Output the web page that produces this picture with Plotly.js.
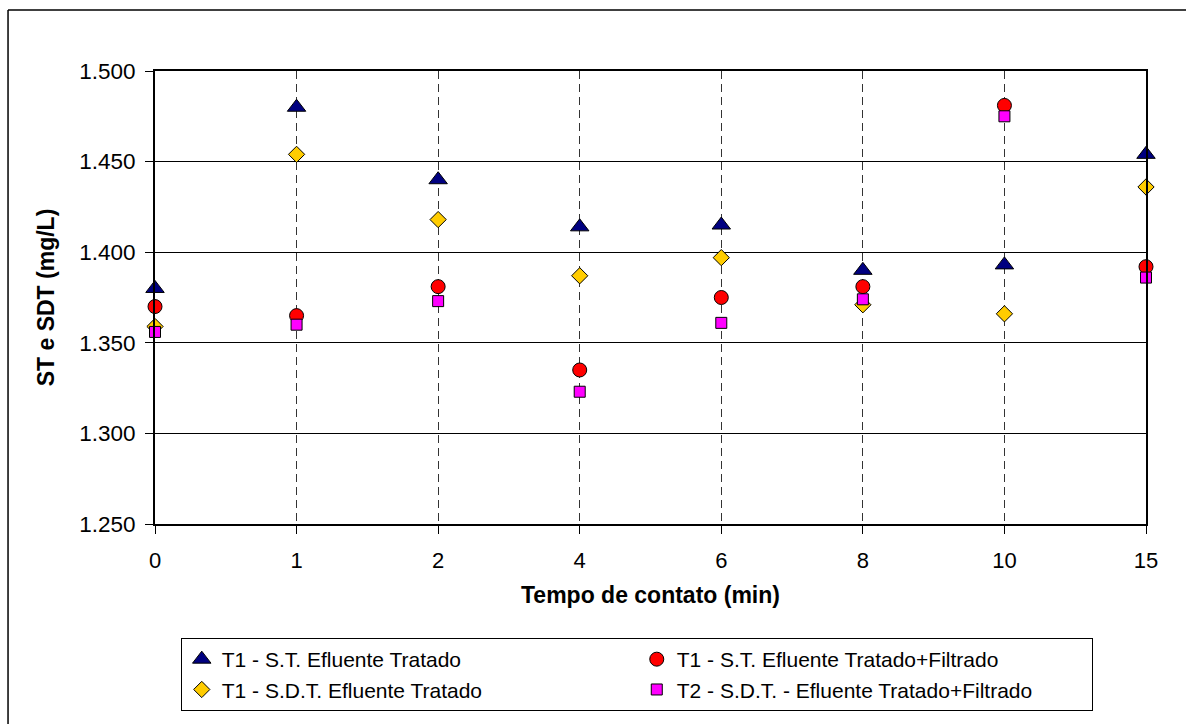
<!DOCTYPE html>
<html>
<head>
<meta charset="utf-8">
<script src="https://cdn.plot.ly/plotly-3.0.1.min.js"></script>
<style>html,body{margin:0;padding:0;background:#fff;}#chart{width:1186px;height:724px;}</style>
</head>
<body>
<div id="chart"></div>
<script>
const categories = ['0', '1', '2', '4', '6', '8', '10', '15'];
const seriesNames = [
  'T1 - S.T. Efluente Tratado',
  'T1 - S.T. Efluente Tratado+Filtrado',
  'T1 - S.D.T. Efluente Tratado',
  'T2 - S.D.T. - Efluente Tratado+Filtrado'
];
const stTratado = [1380, 1480, 1440, 1414, 1415, 1390, 1393, 1454];
const stTratadoFiltrado = [1370, 1365, 1381, 1335, 1375, 1381, 1481, 1392];
const sdtTratado = [1359, 1454, 1418, 1387, 1397, 1371, 1366, 1436];
const sdtTratadoFiltrado = [1356, 1360, 1373, 1323, 1361, 1374, 1475, 1386];
const yTicks = [1250, 1300, 1350, 1400, 1450, 1500];

const FONT = 'Liberation Sans, Arial, sans-serif';

function tr(name, y, symbol, color, size) {
  return {
    type: 'scatter', mode: 'markers', name: name,
    x: categories, y: y, cliponaxis: false,
    marker: {symbol: symbol, color: color, size: size, line: {color: '#000', width: 1}}
  };
}

const data = [
  tr(seriesNames[0], stTratado, 'triangle-up', '#000080', 16),
  tr(seriesNames[1], stTratadoFiltrado, 'circle', '#FF0000', 14),
  tr(seriesNames[2], sdtTratado, 'diamond', '#FFCC00', 12.5),
  tr(seriesNames[3], sdtTratadoFiltrado, 'square', '#FF00FF', 11)
];

const layout = {
  width: 1186, height: 724,
  margin: {l: 155, r: 40, t: 71, b: 200},
  paper_bgcolor: '#fff', plot_bgcolor: '#fff',
  separators: ',.',
  font: {family: FONT, color: '#000', size: 21},
  showlegend: true,
  xaxis: {
    type: 'category', range: [0, categories.length - 1],
    showgrid: true, gridcolor: '#333', gridwidth: 1, griddash: '8px,5px',
    showline: true, linecolor: '#000', linewidth: 2, mirror: true,
    ticks: 'outside', ticklen: 8, tickcolor: '#000', tickwidth: 1,
    ticklabelstandoff: 8,
    tickfont: {family: FONT, size: 22, color: '#000'},
    zeroline: false,
    title: {text: 'Tempo de contato (min)', font: {family: FONT, size: 23, color: '#000', weight: 'bold'}, standoff: 14}
  },
  yaxis: {
    range: [1250, 1500], tickvals: yTicks, tickformat: ',d',
    showgrid: true, gridcolor: '#000', gridwidth: 1,
    showline: true, linecolor: '#000', linewidth: 2, mirror: true,
    ticks: 'outside', ticklen: 8, tickcolor: '#000', tickwidth: 1,
    ticklabelstandoff: 5,
    tickfont: {family: FONT, size: 22.5, color: '#000'},
    zeroline: false,
    title: {text: 'ST e SDT (mg/L)', font: {family: FONT, size: 23, color: '#000', weight: 'bold'}, standoff: 18}
  },
  legend: {
    orientation: 'h', x: 0.026, xanchor: 'left', y: -0.2517, yanchor: 'top',
    bgcolor: '#fff', bordercolor: '#000', borderwidth: 1,
    entrywidth: 410, entrywidthmode: 'pixels',
    font: {family: FONT, size: 21, color: '#000'},
    traceorder: 'normal'
  },
  shapes: [
    {type: 'line', xref: 'paper', yref: 'paper', x0: -0.1483, x1: -0.1483, y0: -3, y1: 1.1347,
     line: {color: '#000', width: 1.5}, layer: 'below'},
    {type: 'line', xref: 'paper', yref: 'paper', x0: -0.1483, x1: 3, y0: 1.1347, y1: 1.1347,
     line: {color: '#000', width: 1.5}, layer: 'below'}
  ]
};

Plotly.newPlot('chart', data, layout, {displayModeBar: false, staticPlot: true});
</script>
</body>
</html>
